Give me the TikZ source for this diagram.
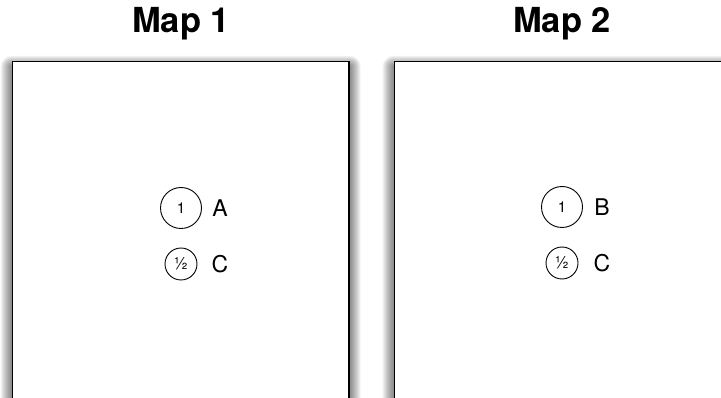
\documentclass[tikz,border=0pt]{standalone}
\usepackage{fontspec}
\setmainfont{TeX Gyre Heros}
\usetikzlibrary{backgrounds}

\tikzset{
  mapbox/.style={draw=black, line width=1.4pt, fill=white, rectangle,
    minimum width=336.5pt, minimum height=337pt, inner sep=0pt},
  shadowlayer/.style={fill=black, fill opacity=0.05},
  maptitle/.style={font=\bfseries\fontsize{34.5}{38}\selectfont, inner sep=0pt},
  bigweight/.style={circle, draw=black, line width=0.9pt, minimum size=41pt,
    inner sep=0pt, font=\fontsize{15}{17}\selectfont},
  smallweight/.style={circle, draw=black, line width=0.9pt, minimum size=32pt,
    inner sep=0pt, font=\fontsize{17}{19}\selectfont},
  place/.style={font=\fontsize{23}{26}\selectfont, inner sep=0pt}
}

\begin{document}
\begin{tikzpicture}[x=1pt, y=-1pt]
  \useasboundingbox (0,0) rectangle (721,398);

  % titles
  \node[maptitle] (t1) at (181,24) {Map 1};
  \node[maptitle] (t2) at (562,24) {Map 2};

  % map frames (the lower edge and the right frame run off the page)
  \node[mapbox] (box1) at (180.75,230) {};
  \node[mapbox] (box2) at (562.5,230) {};

  % soft drop shadow behind each frame, built from stacked translucent layers
  \begin{scope}[on background layer]
    \foreach \b in {box1,box2}{
      \foreach \k in {1,...,11}{
        \fill[shadowlayer, rounded corners=\k pt]
          ([xshift=-\k pt, yshift=\k pt-6pt]\b.north west) rectangle
          ([xshift=\k pt, yshift=-\k pt-6pt]\b.south east);
      }
    }
  \end{scope}

  % first map
  \node[bigweight]   (w1a) at (181,208) {1};
  \node[place]       (pa)  at (220,208) {A};
  \node[smallweight] (w1c) at (181,264) {½};
  \node[place]       (pc1) at (220,264) {C};

  % second map
  \node[bigweight]   (w2b) at (562,207) {1};
  \node[place]       (pb)  at (602,207) {B};
  \node[smallweight] (w2c) at (562,263) {½};
  \node[place]       (pc2) at (602,263) {C};
\end{tikzpicture}
\end{document}
